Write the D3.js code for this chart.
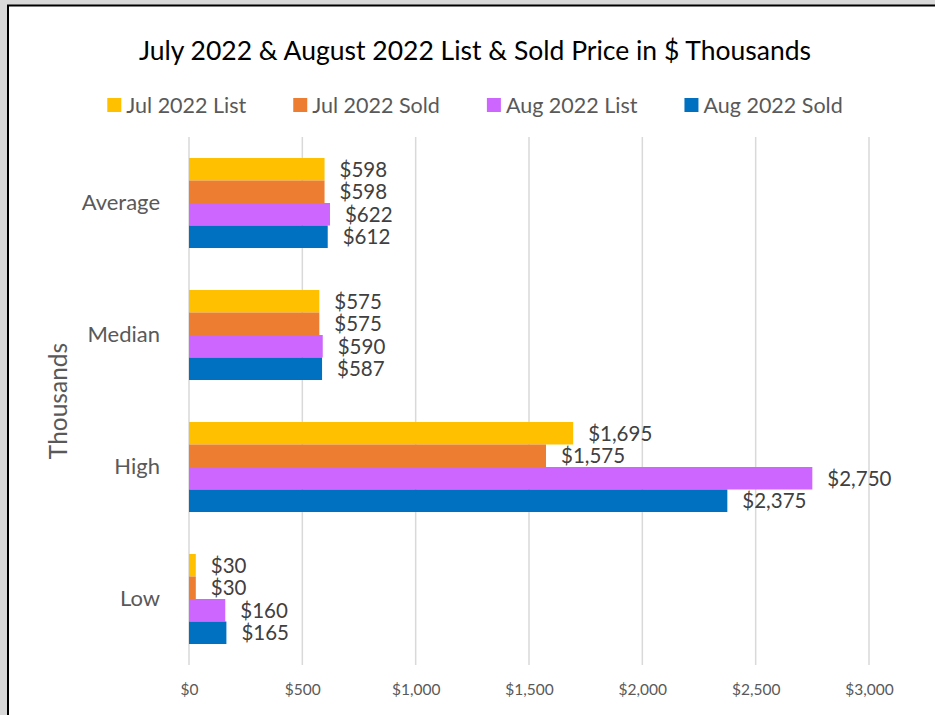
<!DOCTYPE html>
<html>
<head>
<meta charset="utf-8">
<script src="https://cdn.jsdelivr.net/npm/d3@7"></script>
<style>
  body { margin: 0; background: #d9d9d9; }
  text { font-family: Lato, "Open Sans", sans-serif; }
</style>
</head>
<body>
<div id="chart"></div>
<script>
var svgWidth = 935;
var svgHeight = 715;

// data
var categories = ["Average", "Median", "High", "Low"];
var seriesNames = ["Jul 2022 List", "Jul 2022 Sold", "Aug 2022 List", "Aug 2022 Sold"];
var julList = [598, 575, 1695, 30];
var julSold = [598, 575, 1575, 30];
var augList = [622, 590, 2750, 160];
var augSold = [612, 587, 2375, 165];
var xTicks = [0, 500, 1000, 1500, 2000, 2500, 3000];
var colors = ["#FFC000", "#ED7D31", "#CC66FF", "#0070C0"];

var seriesValues = [julList, julSold, augList, augSold];

var svg = d3.select("#chart")
  .append("svg")
  .attr("width", svgWidth)
  .attr("height", svgHeight)
  .style("display", "block");

// chart frame
svg.append("rect")
  .attr("x", 8)
  .attr("y", 5.5)
  .attr("width", 960)
  .attr("height", 740)
  .attr("fill", "white")
  .attr("stroke", "#000")
  .attr("stroke-width", 2);

var plot = { left: 189, right: 869, top: 137, bottom: 665 };

var x = d3.scaleLinear()
  .domain([0, 3000])
  .range([plot.left, plot.right]);

var y = d3.scaleBand()
  .domain(categories)
  .range([plot.top, plot.bottom])
  .paddingInner(0.318)
  .paddingOuter(0.159);

var ySub = d3.scaleBand()
  .domain(seriesNames)
  .range([0, y.bandwidth()]);

// gridlines
svg.append("g")
  .selectAll("line")
  .data(xTicks)
  .enter()
  .append("line")
  .attr("x1", d => x(d))
  .attr("x2", d => x(d))
  .attr("y1", plot.top)
  .attr("y2", plot.bottom)
  .attr("stroke", "#d9d9d9")
  .attr("stroke-width", 1.5);

// x axis labels
var xAxis = svg.append("g")
  .attr("transform", `translate(0, ${plot.bottom})`)
  .call(d3.axisBottom(x).tickValues(xTicks).tickSize(0).tickPadding(19)
    .tickFormat(d => "$" + d3.format(",")(d)));
xAxis.select(".domain").remove();
xAxis.selectAll("text")
  .attr("font-family", "Lato, sans-serif")
  .attr("font-size", 15.5)
  .attr("fill", "#595959");

// category labels
var yAxis = svg.append("g")
  .attr("transform", `translate(${plot.left}, 0)`)
  .call(d3.axisLeft(y).tickSize(0).tickPadding(29));
yAxis.select(".domain").remove();
yAxis.selectAll("text")
  .attr("font-family", "Lato, sans-serif")
  .attr("font-size", 22)
  .attr("fill", "#595959");

// bars
var groups = svg.append("g")
  .selectAll("g")
  .data(seriesNames)
  .enter()
  .append("g")
  .attr("fill", (d, i) => colors[i]);

groups.selectAll("rect")
  .data((s, i) => categories.map((c, j) => ({ cat: c, series: s, value: seriesValues[i][j] })))
  .enter()
  .append("rect")
  .attr("x", x(0))
  .attr("y", d => y(d.cat) + ySub(d.series))
  .attr("width", d => x(d.value) - x(0))
  .attr("height", ySub.bandwidth());

// data labels
groups.selectAll("text")
  .data((s, i) => categories.map((c, j) => ({ cat: c, series: s, value: seriesValues[i][j] })))
  .enter()
  .append("text")
  .attr("x", d => x(d.value) + 15)
  .attr("y", d => y(d.cat) + ySub(d.series) + ySub.bandwidth() / 2)
  .attr("dy", "0.36em")
  .attr("font-size", 20.5)
  .attr("fill", "#404040")
  .text(d => "$" + d3.format(",")(d.value));

// title
svg.append("text")
  .attr("x", 475)
  .attr("y", 60)
  .attr("text-anchor", "middle")
  .attr("font-size", 26.5)
  .attr("fill", "#000")
  .text("July 2022 & August 2022 List & Sold Price in $ Thousands");

// y axis title
svg.append("text")
  .attr("transform", "translate(67, 401) rotate(-90)")
  .attr("text-anchor", "middle")
  .attr("font-size", 24.5)
  .attr("fill", "#595959")
  .text("Thousands");

// legend
var legend = svg.append("g");
var items = legend.selectAll("g")
  .data(seriesNames)
  .enter()
  .append("g");

items.append("rect")
  .attr("width", 14)
  .attr("height", 14)
  .attr("y", 98)
  .attr("fill", (d, i) => colors[i]);

items.append("text")
  .attr("x", 19)
  .attr("y", 105)
  .attr("dy", "0.36em")
  .attr("font-size", 21.5)
  .attr("fill", "#595959")
  .text(d => d);

// lay the legend out in one row, centred
var gap = 47;
var widths = [];
items.each(function() {
  widths.push(19 + d3.select(this).select("text").node().getComputedTextLength());
});
var total = d3.sum(widths) + gap * (widths.length - 1);
var cursor = 475 - total / 2;
items.attr("transform", function(d, i) {
  var t = `translate(${cursor}, 0)`;
  cursor += widths[i] + gap;
  return t;
});
</script>
</body>
</html>
